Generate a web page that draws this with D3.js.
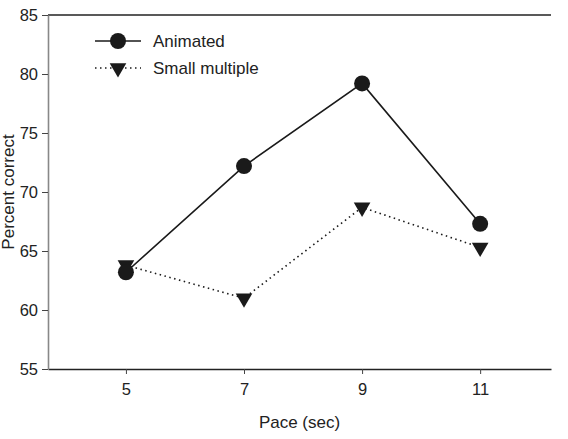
<!DOCTYPE html>
<html>
<head>
<meta charset="utf-8">
<script src="https://cdn.jsdelivr.net/npm/d3@7"></script>
<style>
  body { margin: 0; background: #fff; }
  svg text { font-family: "Liberation Sans", Arial, sans-serif; fill: #222; }
</style>
</head>
<body>
<div id="chart"></div>
<script>
var pace = [5, 7, 9, 11]
var animated = [63.2, 72.2, 79.2, 67.3]
var smallMultiple = [63.8, 61.0, 68.7, 65.3]
var yTicks = [55, 60, 65, 70, 75, 80, 85]
var seriesNames = ["Animated", "Small multiple"]

var W = 568, H = 439
var margin = {top: 15, right: 17, bottom: 70, left: 48}
var width = W - margin.left - margin.right,
    height = H - margin.top - margin.bottom

var svg = d3.select("#chart").append("svg")
  .attr("width", W)
  .attr("height", H)

var g = svg.append("g")
  .attr("transform", "translate(" + margin.left + "," + margin.top + ")")

var x = d3.scaleLinear().domain([3.68, 12.2]).range([0, width])
var y = d3.scaleLinear().domain([55, 85]).range([height, 0])

// top frame line
g.append("line")
  .attr("x1", 0).attr("x2", width)
  .attr("y1", 0).attr("y2", 0)
  .attr("stroke", "#222").attr("stroke-width", 1.3)

var xAxis = g.append("g")
  .attr("transform", "translate(0," + height + ")")
  .call(d3.axisBottom(x).tickValues(pace).tickSize(5).tickSizeOuter(0))
xAxis.select(".domain").attr("stroke", "#222").attr("stroke-width", 1.3)
xAxis.selectAll(".tick line").attr("stroke", "#444")
xAxis.selectAll(".tick text").attr("y", 11).attr("dy", "0.9em").style("font-size", "16.5px")

var yAxis = g.append("g")
  .call(d3.axisLeft(y).tickValues(yTicks).tickSize(6).tickSizeOuter(0))
yAxis.select(".domain").attr("stroke", "#888").attr("stroke-width", 1.6)
yAxis.selectAll(".tick line").attr("stroke", "#444")
yAxis.selectAll(".tick text").attr("x", -10).style("font-size", "16.5px")

g.append("text")
  .attr("x", width / 2)
  .attr("y", height + 59)
  .attr("text-anchor", "middle")
  .style("font-size", "17px")
  .text("Pace (sec)")

g.append("text")
  .attr("transform", "translate(" + (-34) + "," + (height / 2) + ") rotate(-90)")
  .attr("text-anchor", "middle")
  .style("font-size", "17px")
  .text("Percent correct")

var line = d3.line()
  .x((d, i) => x(pace[i]))
  .y(d => y(d))

g.append("path")
  .datum(animated)
  .attr("fill", "none")
  .attr("stroke", "#1a1a1a")
  .attr("stroke-width", 1.6)
  .attr("d", line)

g.append("path")
  .datum(smallMultiple)
  .attr("fill", "none")
  .attr("stroke", "#1a1a1a")
  .attr("stroke-width", 1.6)
  .attr("stroke-dasharray", "1.5,3.5")
  .attr("d", line)

var tri = d3.symbol().type(d3.symbolTriangle).size(120)

g.selectAll(".tri")
  .data(smallMultiple)
  .enter().append("path")
    .attr("class", "tri")
    .attr("d", tri)
    .attr("transform", (d, i) => "translate(" + x(pace[i]) + "," + y(d) + ") rotate(180)")
    .attr("fill", "#1a1a1a")

g.selectAll(".dot")
  .data(animated)
  .enter().append("circle")
    .attr("class", "dot")
    .attr("cx", (d, i) => x(pace[i]))
    .attr("cy", d => y(d))
    .attr("r", 8)
    .attr("fill", "#1a1a1a")

// legend
var leg = g.append("g").attr("transform", "translate(47,26)")
seriesNames.forEach((name, i) => {
  var row = leg.append("g").attr("transform", "translate(0," + (i * 27) + ")")
  row.append("line")
    .attr("x1", 0).attr("x2", 46)
    .attr("stroke", "#1a1a1a").attr("stroke-width", 1.6)
    .attr("stroke-dasharray", i == 0 ? null : "1.5,3.5")
  if (i == 0) {
    row.append("circle").attr("cx", 23).attr("r", 8).attr("fill", "#1a1a1a")
  } else {
    row.append("path").attr("d", tri)
      .attr("transform", "translate(23,0) rotate(180)")
      .attr("fill", "#1a1a1a")
  }
  row.append("text")
    .attr("x", 58)
    .attr("dy", "0.35em")
    .style("font-size", "17px")
    .text(name)
})
</script>
</body>
</html>
